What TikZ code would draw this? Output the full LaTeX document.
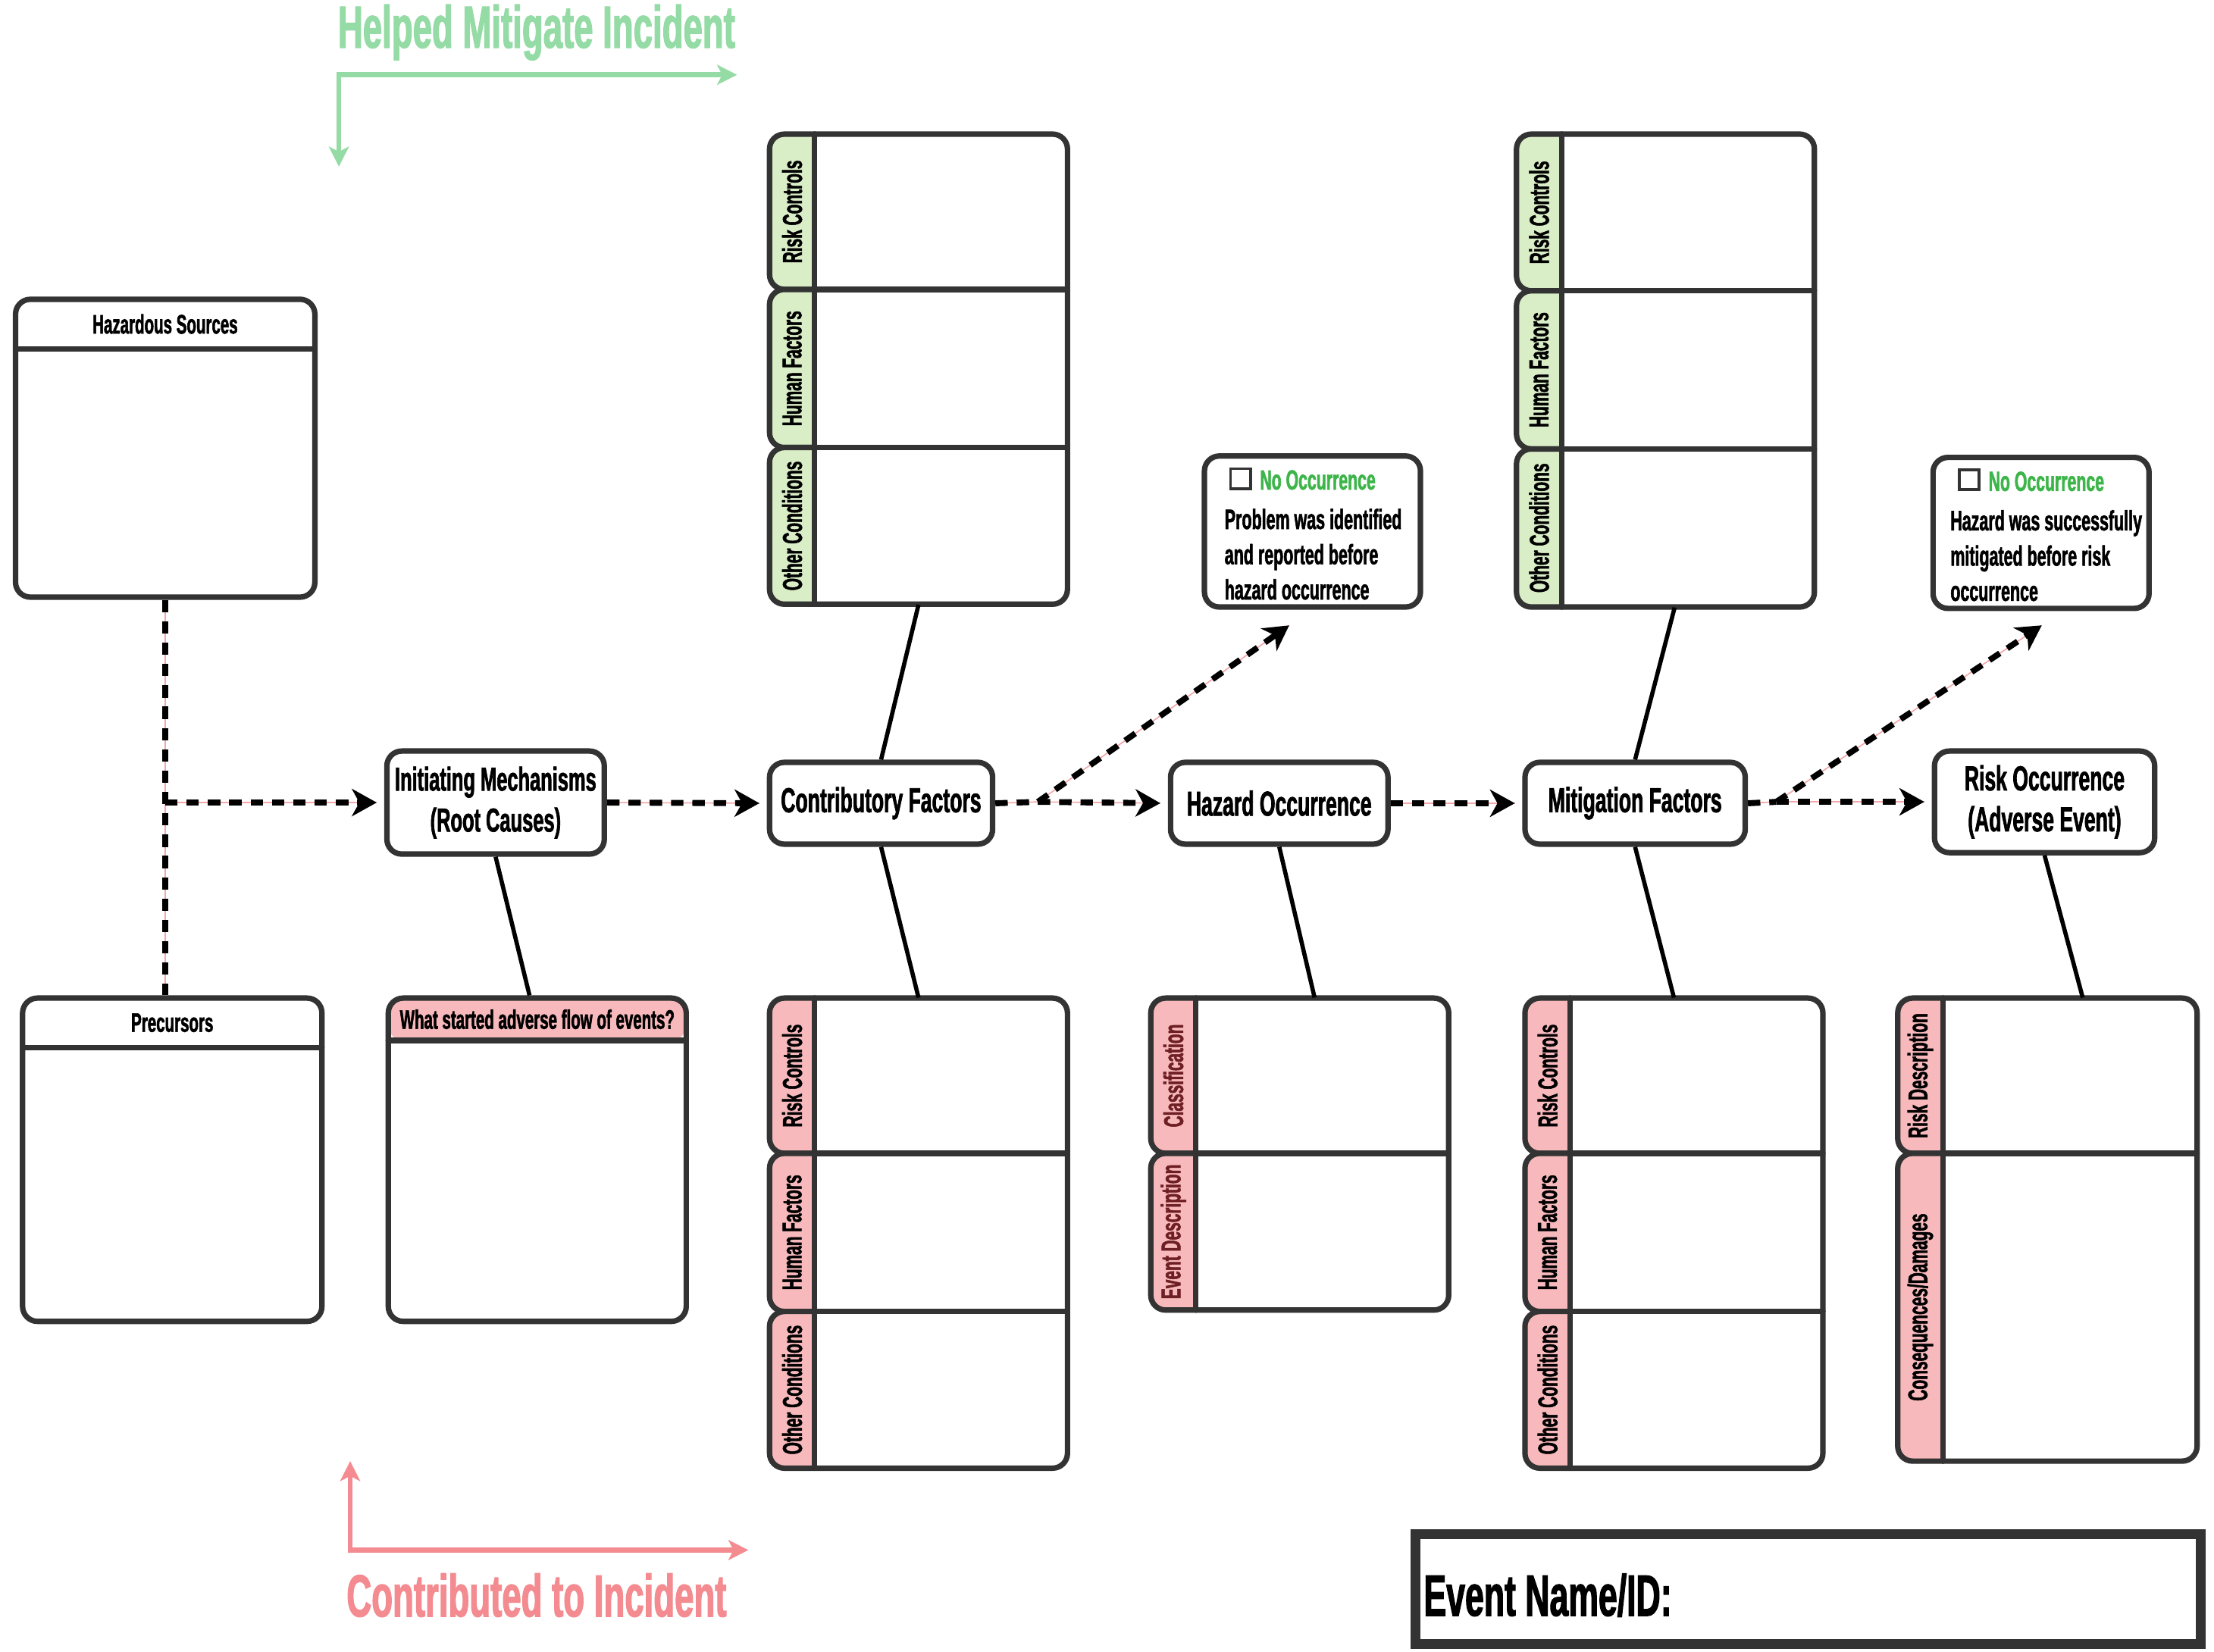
\documentclass[tikz,border=0pt]{standalone}
\usepackage{fontspec}
\setmainfont{Liberation Sans Bold}[FakeStretch=0.58, FakeBold=1.5]
\usetikzlibrary{arrows.meta}

\definecolor{framegray}{HTML}{333333}
\definecolor{tabgreen}{HTML}{D9EDC6}
\definecolor{tabpink}{HTML}{F7B9BC}
\definecolor{helpgreen}{HTML}{94DBA5}
\definecolor{contribpink}{HTML}{F38B90}
\definecolor{pinkline}{HTML}{F4A6A8}
\definecolor{nogreen}{HTML}{3DB54A}
\definecolor{maroon}{HTML}{6E1F24}

\tikzset{
  frameline/.style={draw=framegray, line width=2.2pt, line cap=round},
  panel/.style={frameline, rounded corners=6pt, inner sep=0pt},
  stage/.style={panel, fill=white, align=center, font=\fontsize{14}{16.5}\selectfont},
  headtext/.style={inner sep=0pt, font=\fontsize{10.8}{12}\selectfont},
  tablabel/.style={inner sep=0pt, rotate=90, font=\fontsize{11}{12}\selectfont},
  bone/.style={line width=1.7pt, black},
  flowline/.style={line width=2.4pt, black, dash pattern=on 5pt off 3.6pt,
    preaction={draw=pinkline, line width=0.5pt, solid, arrows=-}},
  flow/.style={flowline, -{Stealth[length=10pt, width=11pt, inset=3pt]}, shorten >=3pt},
  legendarrow/.style={line width=2pt,
    {Stealth[length=8pt, width=8pt, inset=2pt]}-{Stealth[length=8pt, width=8pt, inset=2pt]}},
  legendtext/.style={inner sep=0pt, font=\fontsize{24}{28}\selectfont},
  chk/.style={draw=framegray, line width=1.2pt, minimum size=0.28cm, inner sep=0pt},
  notitle/.style={inner sep=0pt, text=nogreen, font=\fontsize{11.2}{13}\selectfont},
  notext/.style={inner sep=0pt, align=left, font=\fontsize{11.3}{14.2}\selectfont},
}

% box with a title strip on top
\newcommand{\headbox}[8]{%
  \fill[#7, rounded corners=6pt] (#2,#3) rectangle (#4,#6);
  \node[panel, minimum width={(#4-#2)*0.02cm}, minimum height={(#5-#3)*0.02cm}] (#1) at ({(#2+#4)/2},{(#3+#5)/2}) {};
  \draw[frameline] (#2,#6) -- (#4,#6);
  \node[headtext] (#1-h) at ({(#2+#4)/2},{(#3+#6)/2}) {#8};
}

% box split in rows, each with a side tab
\newcommand{\bonestack}[8]{%
  \node[inner sep=0pt, minimum width={(#4-#2)*0.02cm}, minimum height={(#5-#3)*0.02cm}] (#1) at ({(#2+#4)/2},{(#3+#5)/2}) {};
  \foreach \st/\sb/\lab [count=\i] in {#8}{
    \path[frameline, fill=#6, rounded corners=6pt] ({#2+32},\st) -- (#2,\st) -- (#2,\sb) -- ({#2+32},\sb);
    \node[tablabel, text=#7] (#1-\i) at ({#2+16},{(\st+\sb)/2}) {\lab};
    \ifdim\sb pt<#5pt \draw[frameline] ({#2+32},\sb) -- (#4,\sb); \fi
  }
  \draw[frameline, rounded corners=6pt] ({#2+32},#3) -- (#4,#3) -- (#4,#5) -- ({#2+32},#5);
  \draw[frameline] ({#2+32},#3) -- ({#2+32},#5);
}

\begin{document}
\begin{tikzpicture}[x=0.02cm, y=-0.02cm]
\useasboundingbox (0,0) rectangle (1568,1170);

% legend
\node[legendtext, text=helpgreen] (help) at (380,23) {Helped Mitigate Incident};
\coordinate (help-a) at (240,118);
\coordinate (help-b) at (240,53);
\coordinate (help-c) at (522,53);
\draw[legendarrow, helpgreen] (help-a) -- (help-b) -- (help-c);

\node[legendtext, text=contribpink] (contrib) at (380,1130) {Contributed to Incident};
\coordinate (contrib-a) at (248,1035);
\coordinate (contrib-b) at (248,1098);
\coordinate (contrib-c) at (530,1098);
\draw[legendarrow, contribpink] (contrib-a) -- (contrib-b) -- (contrib-c);

% left boxes
\headbox{hs}{11}{212}{223}{423}{247}{white}{Hazardous Sources}
\headbox{pc}{16}{707}{228}{936}{742}{white}{Precursors}
\headbox{ws}{275}{707}{486}{936}{737}{tabpink}{What started adverse flow of events?}

% main chain
\node[stage, minimum width=3.08cm, minimum height=1.46cm, font=\fontsize{13.4}{16.5}\selectfont] (im) at (351,568.5) {Initiating Mechanisms\\(Root Causes)};
\node[stage, minimum width=3.16cm, minimum height=1.16cm] (cf) at (624,569) {Contributory Factors};
\node[stage, minimum width=3.08cm, minimum height=1.16cm] (hz) at (906,569) {Hazard Occurrence};
\node[stage, minimum width=3.12cm, minimum height=1.16cm] (mf) at (1158,569) {Mitigation Factors};
\node[stage, minimum width=3.12cm, minimum height=1.44cm] (ro) at (1448,568) {Risk Occurrence\\(Adverse Event)};

% stacks
\bonestack{cfup}{545}{95}{756}{428}{tabgreen}{black}{95/205/Risk Controls, 205/317/Human Factors, 317/428/Other Conditions}
\bonestack{cfdn}{545}{707}{756}{1040}{tabpink}{black}{707/817/Risk Controls, 817/929/Human Factors, 929/1040/Other Conditions}
\bonestack{hzdn}{815}{707}{1026}{928}{tabpink}{maroon}{707/817/Classification, 817/928/Event Description}
\bonestack{mfup}{1074}{95}{1285}{430}{tabgreen}{black}{95/206/Risk Controls, 206/318/Human Factors, 318/430/Other Conditions}
\bonestack{mfdn}{1080}{707}{1291}{1040}{tabpink}{black}{707/817/Risk Controls, 817/929/Human Factors, 929/1040/Other Conditions}
\bonestack{rodn}{1344}{707}{1556}{1035}{tabpink}{black}{707/817/Risk Description, 817/1035/{Consequences/Damages}}

% no occurrence notes
\node[panel, minimum width=3.06cm, minimum height=2.14cm] (no1) at (929.5,376.5) {};
\node[chk] (no1c) at (878.5,339) {};
\node[notitle, anchor=west] (no1t) at (892,340) {No Occurrence};
\node[notext, anchor=north west] (no1d) at (867,360) {Problem was identified\\and reported before\\hazard occurrence};

\node[panel, minimum width=3.06cm, minimum height=2.14cm] (no2) at (1445.5,377.5) {};
\node[chk] (no2c) at (1394.5,340) {};
\node[notitle, anchor=west] (no2t) at (1408,341) {No Occurrence};
\node[notext, anchor=north west] (no2d) at (1381,361) {Hazard was successfully\\mitigated before risk\\occurrence};

% flow
\coordinate (hsjoin) at (hs.south |- im.west);
\coordinate (split1) at (735,568);
\coordinate (split2) at (1258,568);
\coordinate (no1tip) at (913,443);
\coordinate (no2tip) at (1446,443);
\draw[flowline] (hs.south) -- (hs.south |- pc.north);
\draw[flow] (hsjoin) -- (im.west);
\draw[flow] (im.east) -- (cf.west);
\draw[flowline] (cf.east) -- (split1);
\draw[flow, shorten >=0pt] (split1) -- (no1tip);
\draw[flow] (split1) -- (hz.west);
\draw[flow] (hz.east) -- (mf.west);
\draw[flowline] (mf.east) -- (split2);
\draw[flow, shorten >=0pt] (split2) -- (no2tip);
\draw[flow] (split2) -- (ro.west);

% bones
\draw[bone] (im.south) -- ([xshift=-0.11cm]ws.north);
\draw[bone] (cf.north) -- (cfup.south);
\draw[bone] (cf.south) -- (cfdn.north);
\draw[bone] (hz.south) -- ([xshift=0.21cm]hzdn.north);
\draw[bone] (mf.north) -- ([xshift=0.13cm]mfup.south);
\draw[bone] (mf.south) -- (mfdn.north);
\draw[bone] (ro.south) -- ([xshift=0.5cm]rodn.north);

% event id
\node[draw=framegray, line width=4pt, minimum width=11.12cm, minimum height=1.56cm, inner sep=0pt] (evt) at (1280.5,1125.5) {};
\node[inner sep=0pt, anchor=west, font=\fontsize{23.5}{27}\selectfont] (evtlab) at (1008,1130) {Event Name/ID:};
\end{tikzpicture}
\end{document}
